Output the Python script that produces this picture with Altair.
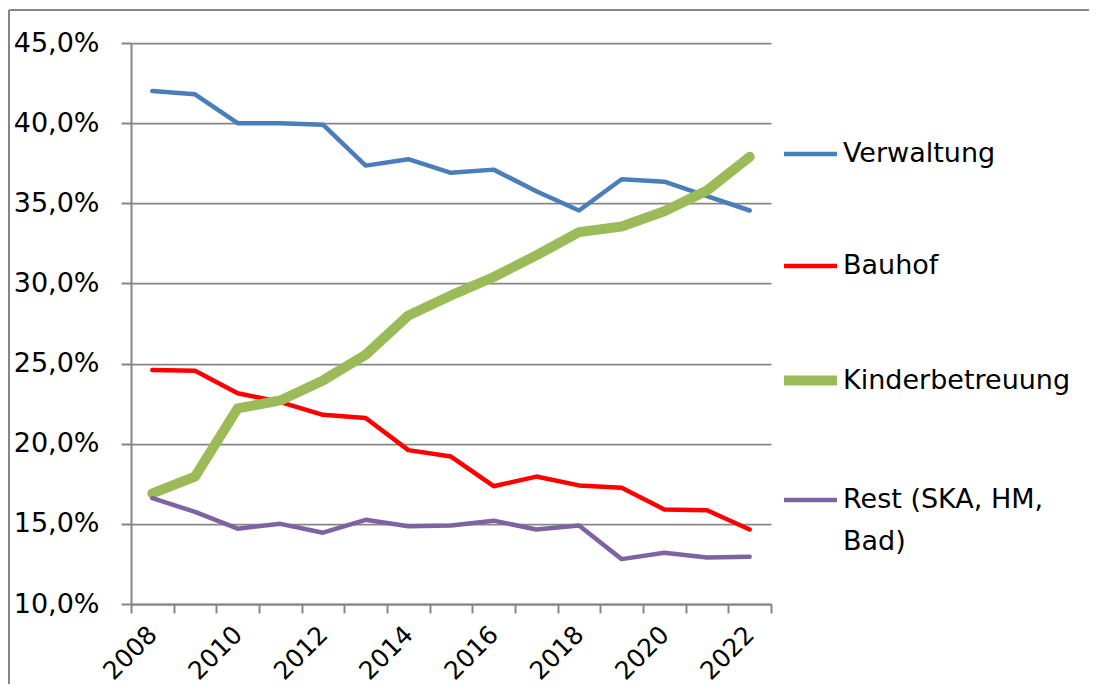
import altair as alt
import pandas as pd

years = list(range(2008, 2023))
series_names = ["Verwaltung", "Bauhof", "Kinderbetreuung", "Rest (SKA, HM, Bad)"]
verwaltung = [42.0, 41.8, 40.0, 40.0, 39.9, 37.35, 37.75, 36.9, 37.1, 35.75, 34.55, 36.5, 36.35, 35.45, 34.55]
bauhof = [24.6, 24.55, 23.15, 22.6, 21.8, 21.6, 19.6, 19.2, 17.35, 17.95, 17.4, 17.25, 15.9, 15.85, 14.65]
kinder = [16.9, 17.95, 22.2, 22.7, 23.95, 25.55, 28.0, 29.25, 30.4, 31.75, 33.2, 33.55, 34.5, 35.8, 37.9]
rest = [16.6, 15.75, 14.7, 15.0, 14.45, 15.25, 14.85, 14.9, 15.2, 14.65, 14.9, 12.8, 13.2, 12.9, 12.95]
colors = ["#4A7EBB", "#FF0000", "#9BBB59", "#7F63A1"]
widths = [4.5, 4.5, 10, 4.5]

rows = []
for name, vals in zip(series_names, [verwaltung, bauhof, kinder, rest]):
    for y, v in zip(years, vals):
        rows.append({"Jahr": str(y), "Anteil": v, "Bereich": name})
df = pd.DataFrame(rows)

FONT = "DejaVu Sans"
FS = 27
GRAY = "#868686"
PAD = {"left": 123, "top": 35, "right": 318, "bottom": 80}
W, H = 640, 561

def make_legend():
    return alt.Legend(
        title=None,
        orient="none",
        legendX=648,
        legendY=82,
        symbolType="stroke",
        symbolSize=2809,
        rowPadding=70,
        labelFontSize=FS,
        labelFont=FONT,
        labelOffset=1,
        labelLimit=400,
        padding=0,
        labelExpr="datum.label == 'Rest (SKA, HM, Bad)' ? ['Rest (SKA, HM,', 'Bad)'] : datum.label",
    )

one = alt.Data(values=[{"a": 1}])
border_top = alt.Chart(one).mark_rule(stroke=GRAY, strokeWidth=2).encode(
    x=alt.value(-122), x2=alt.value(W + PAD["right"] + 2), y=alt.value(-33)
)
border_left = alt.Chart(one).mark_rule(stroke=GRAY, strokeWidth=2).encode(
    x=alt.value(-122), y=alt.value(-33), y2=alt.value(H + PAD["bottom"] + 2)
)

lines = alt.Chart(df).mark_line(strokeCap="round", strokeJoin="round").encode(
    x=alt.X(
        "Jahr:O",
        scale=alt.Scale(type="band", paddingInner=0, paddingOuter=0),
        axis=alt.Axis(
            title=None,
            tickBand="extent",
            labelAngle=-45,
            labelAlign="right",
            labelBaseline="middle",
            labelExpr="toNumber(datum.value) % 2 == 0 ? datum.value : ''",
            labelFontSize=25,
            labelFont=FONT,
            labelPadding=17,
            tickSize=9,
            tickColor=GRAY,
            tickWidth=2,
            domainColor=GRAY,
            domainWidth=2,
            labelColor="#000000",
            grid=False,
        ),
    ),
    y=alt.Y(
        "Anteil:Q",
        scale=alt.Scale(domain=[10, 45], nice=False, zero=False),
        axis=alt.Axis(
            title=None,
            values=[10, 15, 20, 25, 30, 35, 40, 45],
            labelExpr="replace(format(datum.value, '.1f'), '.', ',') + '%'",
            labelFontSize=FS,
            labelFont=FONT,
            labelPadding=22,
            tickSize=10,
            tickColor=GRAY,
            tickWidth=2,
            domainColor=GRAY,
            domainWidth=2,
            gridColor=GRAY,
            gridWidth=1.75,
            labelColor="#000000",
        ),
    ),
    color=alt.Color(
        "Bereich:N",
        scale=alt.Scale(domain=series_names, range=colors),
        legend=make_legend(),
    ),
    strokeWidth=alt.StrokeWidth(
        "Bereich:O",
        sort=series_names,
        scale=alt.Scale(type="ordinal", domain=series_names, range=widths),
        legend=make_legend(),
    ),
)

chart = alt.layer(border_top, border_left, lines).properties(
    width=W,
    height=H,
    autosize=alt.AutoSizeParams(type="none"),
    padding=PAD,
).configure(
    font=FONT,
    style={"guide-label": {"lineHeight": 42}},
).configure_view(
    stroke=None
).configure_legend(
    labelColor="#000000",
)

chart.save("out.html", embed_options={"renderer": "svg", "actions": False})
